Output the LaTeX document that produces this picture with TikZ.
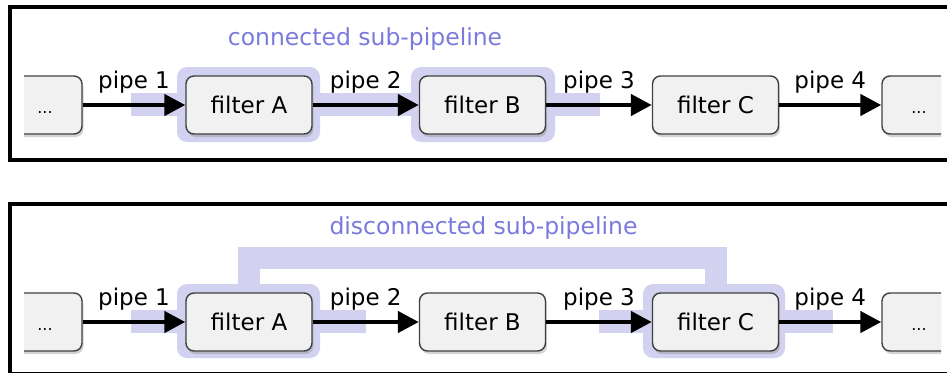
\documentclass[tikz,border=0pt]{standalone}
\usepackage{fontspec}
\setmainfont{DejaVu Sans}
\usetikzlibrary{arrows.meta,shadows,positioning}

\definecolor{subpipe}{RGB}{210,210,240}
\definecolor{subtext}{RGB}{122,122,222}
\definecolor{boxfill}{RGB}{241,241,241}
\definecolor{boxline}{RGB}{64,64,64}

\tikzset{
  filterbox/.style={rectangle, rounded corners=8pt, draw=boxline, line width=1.4pt,
    fill=boxfill, minimum width=126pt, minimum height=58pt, inner sep=0pt,
    text height=17pt, text depth=0pt,
    font=\fontsize{23}{27}\selectfont,
    drop shadow={shadow xshift=1.5pt, shadow yshift=-3pt, opacity=0.35}},
  dotsbox/.style={filterbox, minimum width=74pt, font=\fontsize{16}{19}\selectfont},
  pipe/.style={line width=4.5pt, -{Triangle[length=21pt,width=21pt]}},
  pipelabel/.style={above=9pt, inner sep=0pt, font=\fontsize{23}{27}\selectfont},
  band/.style={fill=subpipe},
  halo/.style={fill=subpipe, rounded corners=10pt},
  frame/.style={line width=4pt},
  caption/.style={anchor=base, text=subtext, font=\fontsize{23.5}{28}\selectfont}
}

\begin{document}
\begin{tikzpicture}[x=1pt, y=-1pt]
  \useasboundingbox (0,0) rectangle (947,372);

  % frames, open on the right
  \draw[frame] (960,7) -- (10,7) -- (10,160) -- (960,160);
  \draw[frame] (960,204) -- (10,204) -- (10,373.5) -- (960,373.5);

  % connected sub-pipeline
  \node[caption] (cap1) at (365,45) {connected sub-pipeline};
  \fill[band] (131,93) rectangle (186,116);
  \fill[halo] (177,67) rectangle (320,142);
  \fill[band] (312,93) rectangle (419,116);
  \fill[halo] (411,67) rectangle (555,142);
  \fill[band] (546,93) rectangle (600,116);

  % disconnected sub-pipeline
  \node[caption] (cap2) at (483.5,234) {disconnected sub-pipeline};
  \draw[subpipe, line width=22pt] (248.5,290) -- (248.5,258) -- (716,258) -- (716,290);
  \fill[band] (131,310) rectangle (186,333);
  \fill[halo] (177,284) rectangle (320,358);
  \fill[band] (312,310) rectangle (366,333);
  \fill[band] (599,310) rectangle (653,333);
  \fill[halo] (643,284) rectangle (785,358);
  \fill[band] (778,310) rectangle (833,333);

  \begin{scope}
    \clip (24,0) rectangle (941,372);
    \node[dotsbox] (inA) at (45,105) {...};
    \node[filterbox] (fA1) at (249,105) {filter A};
    \node[filterbox] (fB1) at (482.5,105) {filter B};
    \node[filterbox] (fC1) at (715.5,105) {filter C};
    \node[dotsbox] (outA) at (919,105) {...};

    \node[dotsbox] (inB) at (45,322) {...};
    \node[filterbox] (fA2) at (249,322) {filter A};
    \node[filterbox] (fB2) at (482.5,322) {filter B};
    \node[filterbox] (fC2) at (715.5,322) {filter C};
    \node[dotsbox] (outB) at (919,322) {...};
  \end{scope}

  \draw[pipe] (inA) -- node[pipelabel] {pipe 1} (fA1);
  \draw[pipe] (fA1) -- node[pipelabel] {pipe 2} (fB1);
  \draw[pipe] (fB1) -- node[pipelabel] {pipe 3} (fC1);
  \draw[pipe] (fC1) -- node[pipelabel] {pipe 4} (outA);

  \draw[pipe] (inB) -- node[pipelabel] {pipe 1} (fA2);
  \draw[pipe] (fA2) -- node[pipelabel] {pipe 2} (fB2);
  \draw[pipe] (fB2) -- node[pipelabel] {pipe 3} (fC2);
  \draw[pipe] (fC2) -- node[pipelabel] {pipe 4} (outB);
\end{tikzpicture}
\end{document}
